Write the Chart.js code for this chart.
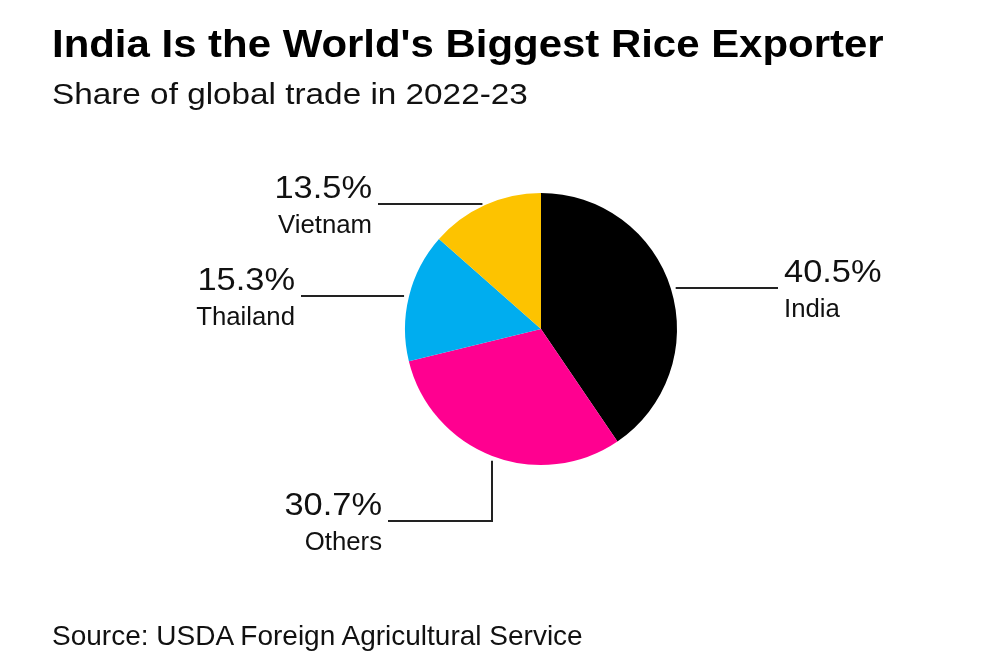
<!DOCTYPE html>
<html>
<head>
<meta charset="utf-8">
<script src="https://cdn.jsdelivr.net/npm/chart.js@4.4.0/dist/chart.umd.min.js"></script>
<style>
  html, body { margin: 0; padding: 0; background: #fff; }
  body { width: 1000px; height: 664px; position: relative; overflow: hidden; font-family: "Liberation Sans", Arial, sans-serif; color: #000; }
  .txt { position: absolute; left: 52px; white-space: nowrap; line-height: 1; transform-origin: left top; }
  #title { top: 24px; font-size: 39px; font-weight: bold; transform: scaleX(1.075); }
  #subtitle { top: 79px; font-size: 30px; color: #111; transform: scaleX(1.11); }
  #source { top: 622px; font-size: 28px; color: #111; }
  #wrap { position: absolute; left: 0; top: 0; width: 1000px; height: 664px; }
</style>
</head>
<body>
<div id="wrap"><canvas id="share"></canvas></div>
<div class="txt" id="title">India Is the World's Biggest Rice Exporter</div>
<div class="txt" id="subtitle">Share of global trade in 2022-23</div>
<div class="txt" id="source">Source: USDA Foreign Agricultural Service</div>
<script>
const countries = ['India', 'Others', 'Thailand', 'Vietnam'];
const shares = [40.5, 30.7, 15.3, 13.5];
const colors = ['#000000', '#ff0090', '#00adef', '#fdc300'];

// where each leader line goes, relative to the pie centre
const leaders = [
  { side: 'right', dy: -41, end: 237 },
  { side: 'down', dx: -49, dy: 192, end: -153 },
  { side: 'left', dy: -33, end: -240 },
  { side: 'left', dy: -125, end: -163 }
];

function wideText(ctx, text, x, y, sx) {
  ctx.save();
  ctx.translate(x, y);
  ctx.scale(sx, 1);
  ctx.fillText(text, 0, 0);
  ctx.restore();
}

const leaderLabels = {
  id: 'leaderLabels',
  afterDatasetsDraw(chart) {
    const ctx = chart.ctx;
    const arcs = chart.getDatasetMeta(0).data;
    ctx.save();
    ctx.strokeStyle = '#222';
    ctx.lineWidth = 2;
    ctx.fillStyle = '#111';
    arcs.forEach((arc, i) => {
      const { x, y, outerRadius } = arc.getProps(['x', 'y', 'outerRadius'], true);
      const l = leaders[i];
      const gap = 5;
      let lx, ly, right;
      ctx.beginPath();
      if (l.side === 'down') {
        const sy = y + Math.sqrt(outerRadius * outerRadius - l.dx * l.dx) + gap;
        ctx.moveTo(x + l.dx, sy);
        ctx.lineTo(x + l.dx, y + l.dy);
        ctx.lineTo(x + l.end, y + l.dy);
        lx = x + l.end - 6; ly = y + l.dy; right = true;
      } else {
        const half = Math.sqrt(outerRadius * outerRadius - l.dy * l.dy) + gap;
        const sx = l.side === 'right' ? x + half : x - half;
        ctx.moveTo(sx, y + l.dy);
        ctx.lineTo(x + l.end, y + l.dy);
        right = l.side !== 'right';
        lx = right ? x + l.end - 6 : x + l.end + 6;
        ly = y + l.dy;
      }
      ctx.stroke();
      ctx.textAlign = right ? 'right' : 'left';
      ctx.textBaseline = 'alphabetic';
      ctx.font = '31px "Liberation Sans", Arial, sans-serif';
      wideText(ctx, shares[i].toFixed(1) + '%', lx, ly - 6, 1.11);
      ctx.font = '25px "Liberation Sans", Arial, sans-serif';
      wideText(ctx, countries[i], lx, ly + 29, 1.03);
    });
    ctx.restore();
  }
};

new Chart(document.getElementById('share').getContext('2d'), {
  type: 'pie',
  data: {
    labels: countries,
    datasets: [{
      data: shares,
      backgroundColor: colors,
      borderWidth: 0
    }]
  },
  options: {
    responsive: true,
    maintainAspectRatio: false,
    animation: false,
    layout: { padding: { left: 405, right: 323, top: 193, bottom: 199 } },
    plugins: {
      legend: { display: false },
      tooltip: { enabled: false }
    }
  },
  plugins: [leaderLabels]
});
</script>
</body>
</html>
